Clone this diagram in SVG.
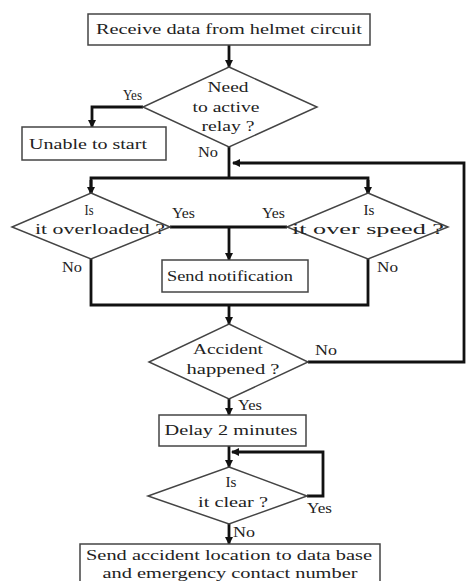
<svg xmlns="http://www.w3.org/2000/svg" width="467" height="581" viewBox="0 0 467 581" font-family="Liberation Serif, Times New Roman, serif">
<defs>
<marker id="ah" markerUnits="userSpaceOnUse" markerWidth="8" markerHeight="8" refX="7" refY="4" orient="auto">
<path d="M0,0 L8,4 L0,8 z" fill="#111"/>
</marker>
<style>
.box{fill:#fff;stroke:#444;stroke-width:1.5}
text{fill:#222}
.t{font-size:15px;text-anchor:middle}
.l{font-size:14px}
.c{fill:none;stroke:#111;stroke-width:2.8}
.a{fill:none;stroke:#111;stroke-width:2.8;marker-end:url(#ah)}
</style>
</defs>
<rect width="467" height="581" fill="#fff"/>
<g id="connectors">
<line class="a" x1="229" y1="45" x2="229" y2="67"/>
<polyline class="a" points="143,107 92,107 92,127"/>
<line class="c" x1="229" y1="147" x2="229" y2="178"/>
<polyline class="c" points="91,194 91,178 368,178 368,194"/>
<line class="a" x1="91" y1="180" x2="91" y2="194"/>
<line class="a" x1="368" y1="180" x2="368" y2="194"/>
<polyline class="c" points="308,362 464,362 464,163 450,163"/>
<line class="a" x1="450" y1="163" x2="233" y2="163"/>
<line class="c" x1="170" y1="227" x2="287" y2="227"/>
<line class="a" x1="229" y1="227" x2="229" y2="260"/>
<polyline class="c" points="91,259 91,305 368,305 368,259"/>
<line class="a" x1="229" y1="305" x2="229" y2="324"/>
<line class="a" x1="229" y1="399" x2="229" y2="415"/>
<line class="a" x1="229" y1="446" x2="229" y2="467"/>
<polyline class="c" points="307,496 323,496 323,452 300,452"/>
<line class="a" x1="300" y1="452" x2="232" y2="452"/>
<line class="a" x1="229" y1="524" x2="229" y2="544"/>
<text class="l" x="123" y="100" textLength="19" lengthAdjust="spacingAndGlyphs">Yes</text>
<text class="l" x="198" y="157" textLength="20" lengthAdjust="spacingAndGlyphs">No</text>
<text class="l" x="172" y="218" textLength="23" lengthAdjust="spacingAndGlyphs">Yes</text>
<text class="l" x="262" y="218" textLength="23" lengthAdjust="spacingAndGlyphs">Yes</text>
<text class="l" x="62" y="272" textLength="20" lengthAdjust="spacingAndGlyphs">No</text>
<text class="l" x="377" y="272" textLength="21" lengthAdjust="spacingAndGlyphs">No</text>
<text class="l" x="315" y="355" textLength="22" lengthAdjust="spacingAndGlyphs">No</text>
<text class="l" x="238" y="410" textLength="24" lengthAdjust="spacingAndGlyphs">Yes</text>
<text class="l" x="307" y="513" textLength="25" lengthAdjust="spacingAndGlyphs">Yes</text>
<text class="l" x="233" y="537" textLength="22" lengthAdjust="spacingAndGlyphs">No</text>
</g>
<g id="receive">
<rect class="box" x="88" y="14" width="282" height="31"/>
<text class="t" x="229" y="34" textLength="266" lengthAdjust="spacingAndGlyphs">Receive data from helmet circuit</text>
</g>
<g id="relay">
<polygon class="box" points="229,67 317,107 229,147 143,107"/>
<text class="t" x="228" y="92" textLength="41" lengthAdjust="spacingAndGlyphs">Need</text>
<text class="t" x="226" y="112" textLength="67" lengthAdjust="spacingAndGlyphs">to active</text>
<text class="t" x="228" y="131" textLength="53" lengthAdjust="spacingAndGlyphs">relay ?</text>
</g>
<g id="unable">
<rect class="box" x="22" y="127" width="144" height="33"/>
<text class="t" x="88" y="149" textLength="118" lengthAdjust="spacingAndGlyphs">Unable to start</text>
</g>
<g id="overloaded">
<polygon class="box" points="91,193 170,227 91,259 12,227"/>
<text class="t" x="89" y="215" textLength="9" lengthAdjust="spacingAndGlyphs">Is</text>
<text class="t" x="100" y="234" textLength="130" lengthAdjust="spacingAndGlyphs">it overloaded ?</text>
</g>
<g id="overspeed">
<polygon class="box" points="368,193 448,227 368,259 287,227"/>
<text class="t" x="369" y="215" textLength="11" lengthAdjust="spacingAndGlyphs">Is</text>
<text class="t" x="368" y="234" textLength="152" lengthAdjust="spacingAndGlyphs">it over speed ?</text>
</g>
<g id="notification">
<rect class="box" x="162" y="260" width="146" height="32"/>
<text class="t" x="230" y="281" textLength="126" lengthAdjust="spacingAndGlyphs">Send notification</text>
</g>
<g id="accident">
<polygon class="box" points="229,324 308,362 229,399 149,362"/>
<text class="t" x="228" y="354" textLength="70" lengthAdjust="spacingAndGlyphs">Accident</text>
<text class="t" x="233" y="374" textLength="93" lengthAdjust="spacingAndGlyphs">happened ?</text>
</g>
<g id="delay">
<rect class="box" x="159" y="415" width="147" height="31"/>
<text class="t" x="231" y="435" textLength="133" lengthAdjust="spacingAndGlyphs">Delay 2 minutes</text>
</g>
<g id="clear">
<polygon class="box" points="229,467 307,496 229,524 148,496"/>
<text class="t" x="231" y="487" textLength="11" lengthAdjust="spacingAndGlyphs">Is</text>
<text class="t" x="233" y="507" textLength="70" lengthAdjust="spacingAndGlyphs">it clear ?</text>
</g>
<g id="sendlocation">
<rect class="box" x="80" y="544" width="300" height="50"/>
<text class="t" x="229" y="560" textLength="286" lengthAdjust="spacingAndGlyphs">Send accident location to data base</text>
<text class="t" x="230" y="578" textLength="255" lengthAdjust="spacingAndGlyphs">and emergency contact number</text>
</g>
</svg>
